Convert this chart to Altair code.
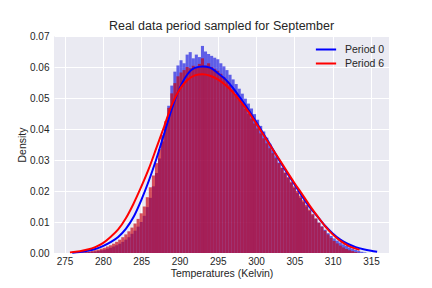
import altair as alt
import pandas as pd

# Histogram (density) heights, bin width 0.4 K starting at 276.0 K
bin_start = 276.0
bin_width = 0.4
hist_period0 = [
    0.0000, 0.0000, 0.0001, 0.0001, 0.0002, 0.0003, 0.0004, 0.0005, 0.0007, 0.0009,
    0.0011, 0.0014, 0.0017, 0.0021, 0.0025, 0.0030, 0.0036, 0.0043, 0.0051, 0.0062,
    0.0072, 0.0085, 0.0100, 0.0120, 0.0148, 0.0178, 0.0215, 0.0258, 0.0305, 0.0360,
    0.0418, 0.0475, 0.0540, 0.0585, 0.0605, 0.0622, 0.0612, 0.0640, 0.0648, 0.0628,
    0.0640, 0.0632, 0.0668, 0.0650, 0.0642, 0.0636, 0.0630, 0.0625, 0.0612, 0.0602,
    0.0590, 0.0575, 0.0560, 0.0545, 0.0530, 0.0514, 0.0498, 0.0482, 0.0466, 0.0448,
    0.0430, 0.0410, 0.0392, 0.0372, 0.0352, 0.0332, 0.0312, 0.0292, 0.0275, 0.0258,
    0.0242, 0.0226, 0.0210, 0.0194, 0.0178, 0.0164, 0.0150, 0.0136, 0.0122, 0.0110,
    0.0098, 0.0086, 0.0075, 0.0064, 0.0055, 0.0047, 0.0040, 0.0034, 0.0028, 0.0023,
    0.0018, 0.0014, 0.0010, 0.0007, 0.0004, 0.0002,
]
hist_period6 = [
    0.0001, 0.0001, 0.0002, 0.0003, 0.0004, 0.0005, 0.0007, 0.0009, 0.0011, 0.0014,
    0.0017, 0.0021, 0.0025, 0.0030, 0.0036, 0.0043, 0.0051, 0.0060, 0.0070, 0.0082,
    0.0095, 0.0110, 0.0128, 0.0150, 0.0180, 0.0212, 0.0250, 0.0290, 0.0335, 0.0380,
    0.0425, 0.0468, 0.0515, 0.0548, 0.0570, 0.0582, 0.0590, 0.0600, 0.0596, 0.0604,
    0.0598, 0.0610, 0.0628, 0.0605, 0.0612, 0.0600, 0.0594, 0.0588, 0.0578, 0.0568,
    0.0556, 0.0542, 0.0528, 0.0513, 0.0498, 0.0482, 0.0466, 0.0450, 0.0434, 0.0418,
    0.0402, 0.0386, 0.0370, 0.0354, 0.0338, 0.0322, 0.0306, 0.0290, 0.0275, 0.0260,
    0.0245, 0.0230, 0.0215, 0.0200, 0.0185, 0.0170, 0.0155, 0.0140, 0.0126, 0.0112,
    0.0098, 0.0085, 0.0072, 0.0060, 0.0049, 0.0039, 0.0031, 0.0024, 0.0018, 0.0013,
    0.0009, 0.0006, 0.0003, 0.0001, 0.0000, 0.0000,
]

# Fitted density curves
curve0_x = [276.0, 277, 278, 279, 280, 281, 282, 283, 284, 285, 286, 287, 288, 289,
            290, 291, 292, 293, 294, 295, 296, 297, 298, 299, 300, 301, 302, 303,
            304, 305, 306, 307, 308, 309, 310, 311, 312, 313, 314, 315, 315.8]
curve0_y = [0.0001, 0.0003, 0.0007, 0.0013, 0.0022, 0.0035, 0.0052, 0.0078, 0.0116,
            0.0170, 0.0233, 0.0305, 0.0385, 0.0465, 0.0530, 0.0575, 0.0597, 0.0602,
            0.0598, 0.0580, 0.0560, 0.0532, 0.0498, 0.0462, 0.0423, 0.0383, 0.0343,
            0.0300, 0.0260, 0.0222, 0.0183, 0.0148, 0.0118, 0.0088, 0.0063, 0.0043,
            0.0029, 0.0019, 0.0012, 0.0007, 0.0004]
curve6_x = [275.7, 277, 278, 279, 280, 281, 282, 283, 284, 285, 286, 287, 288, 289,
            290, 291, 292, 293, 294, 295, 296, 297, 298, 299, 300, 301, 302, 303,
            304, 305, 306, 307, 308, 309, 310, 311, 312, 313, 313.5]
curve6_y = [0.0002, 0.0006, 0.0011, 0.0019, 0.0032, 0.0052, 0.0076, 0.0112, 0.0159,
            0.0213, 0.0272, 0.0340, 0.0408, 0.0478, 0.0527, 0.0557, 0.0573, 0.0577,
            0.0572, 0.0560, 0.0542, 0.0518, 0.0488, 0.0455, 0.0418, 0.0380, 0.0341,
            0.0303, 0.0264, 0.0226, 0.0190, 0.0153, 0.0119, 0.0087, 0.0060, 0.0039,
            0.0024, 0.0014, 0.0010]

periods = ["Period 0", "Period 6"]
colors = ["#0000ff", "#ff0000"]
bar_colors = ["#0000e0", "#c80010"]
x_ticks = [275, 280, 285, 290, 295, 300, 305, 310, 315]
y_ticks = [0.0, 0.01, 0.02, 0.03, 0.04, 0.05, 0.06, 0.07]

def hist_df(values):
    lo = [bin_start + i * bin_width for i in range(len(values))]
    return pd.DataFrame({"lo": lo, "hi": [v + bin_width for v in lo], "density": values})

h0 = hist_df(hist_period0)
h6 = hist_df(hist_period6)
curves = pd.concat([
    pd.DataFrame({"temp": curve0_x, "density": curve0_y, "period": periods[0]}),
    pd.DataFrame({"temp": curve6_x, "density": curve6_y, "period": periods[1]}),
])

xscale = alt.Scale(domain=[273.62, 317.35], nice=False, zero=False)
yscale = alt.Scale(domain=[0, 0.07], nice=False)
xaxis = alt.Axis(values=x_ticks, title="Temperatures (Kelvin)", format="d", labelOverlap=False)
yaxis = alt.Axis(values=y_ticks, format=".2f", title="Density", labelOverlap=False)

bars0 = alt.Chart(h0).mark_bar(color=bar_colors[0], opacity=0.6).encode(
    x=alt.X("lo:Q", scale=xscale, axis=xaxis), x2="hi:Q",
    y=alt.Y("density:Q", scale=yscale, axis=yaxis), y2=alt.datum(0),
)
bars6 = alt.Chart(h6).mark_bar(color=bar_colors[1], opacity=0.67).encode(
    x=alt.X("lo:Q", scale=xscale, axis=xaxis), x2="hi:Q",
    y=alt.Y("density:Q", scale=yscale, axis=yaxis), y2=alt.datum(0),
)
lines = alt.Chart(curves).mark_line(strokeWidth=2, interpolate="monotone").encode(
    x=alt.X("temp:Q", scale=xscale, axis=xaxis),
    y=alt.Y("density:Q", scale=yscale, axis=yaxis),
    color=alt.Color("period:N", scale=alt.Scale(domain=periods, range=colors),
                    legend=alt.Legend(title=None, orient="none", legendX=263.5, legendY=5,
                                      symbolType="M-1.35,0H1.35", symbolSize=225,
                                      symbolStrokeWidth=2,
                                      labelFontSize=10.5, labelColor="#262626", padding=0,
                                      rowPadding=0, labelOffset=10.5)),
)

chart = alt.layer(bars0, bars6, lines).properties(
    width=335, height=217,
    title=alt.TitleParams("Real data period sampled for September", fontSize=12.5,
                          fontWeight="normal", color="#262626", offset=-1, font="Liberation Sans"),
    autosize=alt.AutoSizeParams(type="none"),
    padding={"left": 46, "top": 28, "right": 35, "bottom": 27},
).configure_view(fill="#eaeaf2", stroke=None).configure_axis(
    grid=True, gridColor="#ffffff", gridWidth=1, domain=False, ticks=False,
    labelFont="Liberation Sans", titleFont="Liberation Sans", labelFontSize=10,
    titleFontSize=10.5, labelColor="#262626", titleColor="#262626", titleFontWeight="normal",
).configure_axisY(titlePadding=2, labelPadding=5).configure_axisX(
    titlePadding=2, labelPadding=3
).configure_legend(labelFont="Liberation Sans")

chart.save("out.html", embed_options={"renderer": "svg", "actions": False})
